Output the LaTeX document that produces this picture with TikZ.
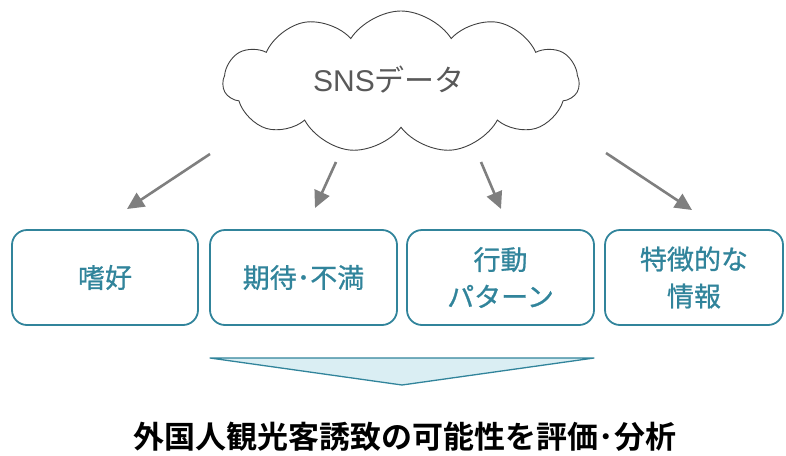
\documentclass[tikz,border=0pt]{standalone}
\usepackage{fontspec}
\usetikzlibrary{shapes.symbols,arrows.meta}
\newfontfamily\cjk{Noto Sans CJK JP}
\newfontfamily\cjkmed[FakeBold=0.8]{Noto Sans CJK JP}
\newfontfamily\cjkb{Noto Sans CJK JP Bold}
\newfontfamily\latin{Liberation Sans}
\definecolor{teal1}{HTML}{31849B}
\definecolor{lightfill}{HTML}{DAEEF3}
\definecolor{arrowgray}{HTML}{7F7F7F}
\definecolor{textgray}{HTML}{595959}
\tikzset{
  itembox/.style={draw=teal1, line width=1.8pt, rounded corners=15pt, fill=white,
    text=teal1, font=\cjkmed\fontsize{27}{37}\selectfont, align=center, inner sep=0pt},
  grayarrow/.style={draw=arrowgray, line width=2.6pt, -{Triangle[length=17pt,width=16pt]}},
}
\begin{document}
\begin{tikzpicture}[x=1pt,y=-1pt]
\useasboundingbox (0,0) rectangle (786,455);
% cloud
\node[cloud, cloud puffs=11, cloud puff arc=115, aspect=2.3, draw=black!75, line width=0.9pt,
  minimum width=356pt, minimum height=142pt, inner sep=0pt] (cloud) at (401,82) {};
\node[text=textgray, font=\cjk\fontsize{30}{32}\selectfont] (sns) at (389,80) {{\latin SNS}データ};
% boxes
\node[itembox, minimum width=186pt, minimum height=95pt] (b1) at (105,277.5) {嗜好};
\node[itembox, minimum width=187pt, minimum height=95pt] (b2) at (303.5,277.5) {期待･不満};
\node[itembox, minimum width=187pt, minimum height=95pt] (b3) at (500.5,277.5) {行動\\パターン};
\node[itembox, minimum width=178pt, minimum height=95pt] (b4) at (694,277.5) {特徴的な\\情報};
% arrows
\coordinate (a1s) at (210,154); \coordinate (a1e) at (127,209);
\coordinate (a2s) at (336,162); \coordinate (a2e) at (315,208);
\coordinate (a3s) at (481,162); \coordinate (a3e) at (501,209);
\coordinate (a4s) at (606,153); \coordinate (a4e) at (692,210);
\draw[grayarrow] (a1s) -- (a1e);
\draw[grayarrow] (a2s) -- (a2e);
\draw[grayarrow] (a3s) -- (a3e);
\draw[grayarrow] (a4s) -- (a4e);
% triangle
\coordinate (t1) at (210,358); \coordinate (t2) at (594,358); \coordinate (t3) at (402,385);
\draw[draw=teal1, fill=lightfill, line width=1.3pt, line join=round] (t1) -- (t2) -- (t3) -- cycle;
% bottom text
\node[font=\cjkb\fontsize{31}{34}\selectfont, text=black] (result) at (405,437) {外国人観光客誘致の可能性を評価･分析};
\end{tikzpicture}
\end{document}
